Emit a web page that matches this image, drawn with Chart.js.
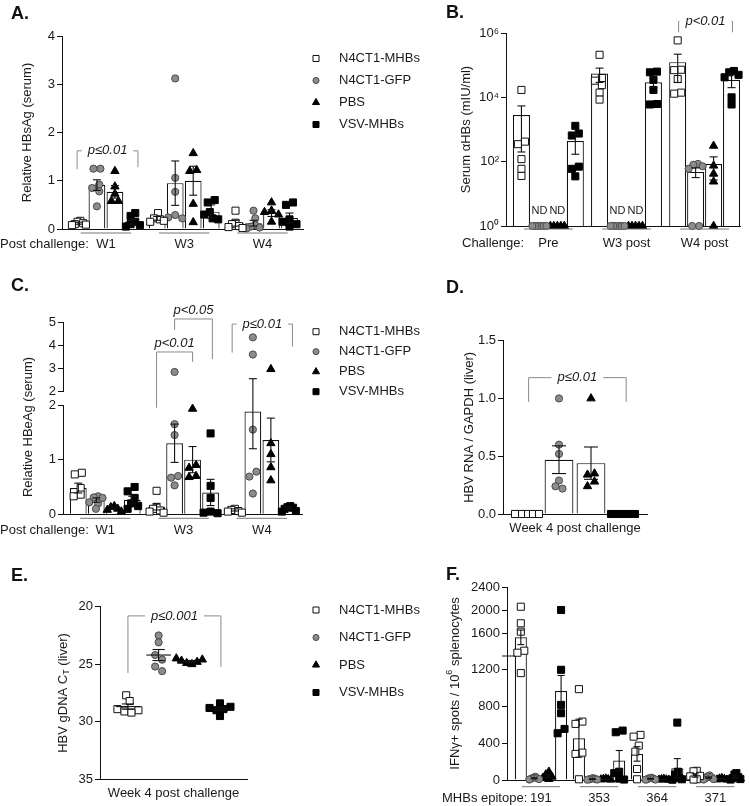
<!DOCTYPE html>
<html>
<head>
<meta charset="utf-8">
<script src="https://cdn.jsdelivr.net/npm/chart.js@4.4.1/dist/chart.umd.min.js"></script>
<style>
  body { margin: 0; background: #fff; }
  #fig { position: relative; width: 750px; height: 806px; overflow: hidden; font-family: "Liberation Sans", Arial, sans-serif; }
  #fig canvas { position: absolute; }
  .tag { position: absolute; font-weight: bold; font-size: 18px; line-height: 18px; color: #111; }
</style>
</head>
<body>
<div id="fig">
  <canvas id="cA" width="480" height="262" style="left:0;top:0"></canvas>
  <canvas id="cB" width="310" height="262" style="left:440px;top:0"></canvas>
  <canvas id="cC" width="480" height="272" style="left:0;top:270px"></canvas>
  <canvas id="cD" width="310" height="272" style="left:440px;top:270px"></canvas>
  <canvas id="cE" width="480" height="266" style="left:0;top:540px"></canvas>
  <canvas id="cF" width="310" height="266" style="left:440px;top:540px"></canvas>
  <div class="tag" style="left:11px;top:4px">A.</div>
  <div class="tag" style="left:446px;top:3px">B.</div>
  <div class="tag" style="left:11px;top:276px">C.</div>
  <div class="tag" style="left:446px;top:278px">D.</div>
  <div class="tag" style="left:11px;top:566px">E.</div>
  <div class="tag" style="left:446px;top:565px">F.</div>
</div>
<script>
const FONT = '"Liberation Sans", Arial, Helvetica, sans-serif';
Chart.defaults.font.family = FONT;
Chart.defaults.font.size = 13;
Chart.defaults.color = '#1a1a1a';
Chart.defaults.responsive = false;
Chart.defaults.animation = false;
Chart.defaults.events = [];
Chart.defaults.plugins.legend.display = false;
Chart.defaults.plugins.tooltip.enabled = false;

const seriesNames = ['N4CT1-MHBs', 'N4CT1-GFP', 'PBS', 'VSV-MHBs'];

// A. relative HBsAg (serum); points per group W1, W3, W4
const aGroups = ['W1', 'W3', 'W4'];
const aMHBs = [[0.17, 0.15, 0.12, 0.1, 0.09, 0.08], [0.33, 0.22, 0.2, 0.17, 0.15], [0.38, 0.13, 0.1, 0.06, 0.04, 0.02]];
const aGFP = [[1.25, 1.25, 0.92, 0.85, 0.78, 0.47], [3.12, 1.06, 0.77, 0.29, 0.24, 0.22], [0.38, 0.22, 0.08, 0.05, 0.03, 0.01]];
const aPBS = [[1.2, 0.88, 0.73, 0.58, 0.58], [1.57, 1.22, 1.2, 0.52, 0.14], [0.55, 0.38, 0.35, 0.3, 0.15]];
const aVSV = [[0.33, 0.27, 0.15, 0.1, 0.08, 0.05], [0.6, 0.55, 0.35, 0.3, 0.22, 0.2], [0.55, 0.5, 0.2, 0.15, 0.1, 0.05]];
const aMean = [[0.12, 0.22, 0.12], [0.91, 0.95, 0.12], [0.77, 1.0, 0.33], [0.15, 0.36, 0.23]];
const aSem = [[0.02, 0.04, 0.06], [0.11, 0.46, 0.06], [0.13, 0.3, 0.07], [0.05, 0.14, 0.1]];

// B. serum anti-HBs (mIU/ml), ND plotted at 1
const bGroups = ['Pre', 'W3 post', 'W4 post'];
const bMHBs = [[17000, 420, 350, 120, 60, 36], [210000, 40000, 33000, 24000, 14000, 8500], [590000, 72000, 70000, 37000, 14000, 13000]];
const bGFP = [[1, 1, 1, 1, 1, 1], [1, 1, 1, 1, 1, 1], [85, 80, 72, 60, 1, 1]];
const bPBS = [[1, 1, 1, 1, 1], [1, 1, 1, 1, 1], [310, 75, 42, 24, 1]];
const bVSV = [[1300, 750, 650, 70, 60, 35], [63000, 60000, 35000, 17000, 6200, 6000], [66000, 60000, 50000, 42000, 10000, 6000]];
const bMean = [[2800, 55000, 124000], [1, 1, 48], [1, 1, 84], [440, 29500, 35000]];
const bSem = [[2600, 26000, 95000], [0, 0, 16], [0, 0, 57], [270, 9500, 15000]];
const bTickVals = [1, 1e2, 1e4, 1e6];
const bTickText = ['10⁰', '10²', '10⁴', '10⁶'];
const bNDgroup = [0, 0, 1, 1];
const bNDseries = [1, 2, 1, 2];

// C. relative HBeAg (serum)
const cGroups = ['W1', 'W3', 'W4'];
const cMHBs = [[0.76, 0.73, 0.48, 0.36, 0.33], [0.43, 0.12, 0.1, 0.07, 0.05, 0.03], [0.1, 0.08, 0.06, 0.05, 0.03]];
const cGFP = [[0.33, 0.31, 0.3, 0.22, 0.2, 0.1], [2.85, 1.65, 1.45, 0.7, 0.67, 0.53], [4.34, 3.6, 1.55, 0.78, 0.69, 0.38]];
const cPBS = [[0.15, 0.13, 0.1, 0.08, 0.05], [1.93, 0.9, 0.85, 0.7, 0.68], [2.97, 1.3, 1.1, 0.86, 0.62]];
const cVSV = [[0.5, 0.42, 0.3, 0.2, 0.15, 0.1], [1.48, 0.52, 0.3, 0.05, 0.03, 0.02], [0.15, 0.13, 0.12, 0.1, 0.06, 0.05]];
const cMean = [[0.48, 0.14, 0.08], [0.26, 1.3, 1.88], [0.12, 1.0, 1.36], [0.26, 0.4, 0.12]];
const cSem = [[0.09, 0.06, 0.02], [0.04, 0.35, 0.68], [0.02, 0.24, 0.4], [0.07, 0.24, 0.02]];

// D. HBV RNA / GAPDH (liver), week 4
const dGroups = ['Week 4 post challenge'];
const dMHBs = [[0, 0, 0, 0, 0]];
const dGFP = [[1.0, 0.6, 0.52, 0.29, 0.24, 0.22]];
const dPBS = [[1.0, 0.35, 0.34, 0.28, 0.24]];
const dVSV = [[0, 0, 0, 0, 0]];
const dMean = [[0], [0.47], [0.44], [0]];
const dSem = [[0], [0.12], [0.14], [0]];

// E. HBV gDNA Ct (liver), week 4
const eMHBs = [27.7, 28.2, 28.9, 29.0, 29.1, 29.2];
const eGFP = [22.5, 23.1, 24.2, 24.6, 25.2, 25.6];
const ePBS = [24.5, 24.6, 24.7, 24.8, 24.9, 25.0];
const eVSV = [28.4, 28.7, 28.8, 28.9, 29.0, 29.5];
const eMean = [28.68, 24.2, 24.75, 28.88];
const eSem = [0.23, 0.48, 0.08, 0.16];

// F. IFNg spots per 10^6 splenocytes, by MHBs epitope
const fGroups = ['191', '353', '364', '371'];
const fMHBs = [[2057, 1769, 1623, 1292, 1257, 1164], [989, 636, 611, 298, 284, 8], [491, 472, 374, 309, 120, 8], [100, 95, 45, 40, 8, 5]];
const fGFP = [[35, 25, 20, 15, 10, 5], [20, 15, 10, 8, 5, 3], [25, 20, 15, 10, 5, 3], [50, 40, 30, 20, 10, 5]];
const fPBS = [[90, 60, 35, 20, 10], [15, 10, 8, 5, 3], [12, 8, 5, 3, 2], [20, 15, 10, 5, 3]];
const fVSV = [[2000, 1200, 818, 727, 556, 509], [538, 520, 90, 75, 15, 5], [625, 90, 60, 20, 8, 3], [75, 60, 30, 20, 10, 5]];
const fMean = [[1525, 455, 284, 49], [18, 10, 13, 26], [43, 8, 6, 11], [968, 211, 127, 33]];
const fSem = [[127, 207, 79, 18], [5, 3, 4, 7], [15, 2, 2, 3], [170, 110, 106, 11]];
const fTicksLow = [0, 400, 800, 1200];
const fTicksHigh = [1600, 2000, 2400];

const marks = [
  {pointStyle: 'rect', radius: 5, bg: '#ffffff', line: '#111111'},
  {pointStyle: 'circle', radius: 3.6, bg: '#8c8c8c', line: '#4a4a4a'},
  {pointStyle: 'triangle', radius: 4.8, bg: '#000000', line: '#000000'},
  {pointStyle: 'rect', radius: 5, bg: '#000000', line: '#000000'}
];

// spread points sideways so markers do not sit on top of each other
function swarm(vals, pxY, pxX, half) {
  const d = 7;
  const idx = vals.map((v, i) => i).sort((a, b) => vals[b] - vals[a]);
  const pts = [];
  const off = new Array(vals.length).fill(0);
  idx.forEach(i => {
    const y = pxY(vals[i]);
    let c = 0;
    for (let k = 0; k < 60; k++) {
      c = (k % 2 ? -1 : 1) * Math.ceil(k / 2) * d / 2;
      if (pts.every(p => Math.hypot(p.x - c, p.y - y) >= d * 0.92)) break;
    }
    pts.push({i, x: c, y});
  });
  const done = list => {
    const mean = list.reduce((a, p) => a + p.x, 0) / list.length;
    const span = Math.max(...list.map(p => Math.abs(p.x - mean)));
    const k = span > half ? half / span : 1;
    list.forEach(p => { off[p.i] = (p.x - mean) * k / pxX; });
  };
  let cl = [pts[0]];
  for (let j = 1; j < pts.length; j++) {
    if (Math.abs(pts[j].y - pts[j - 1].y) < d) cl.push(pts[j]);
    else { done(cl); cl = [pts[j]]; }
  }
  done(cl);
  return off;
}

function xAxis(min, max) {
  return {
    type: 'linear', min, max, offset: false,
    grid: {display: false}, ticks: {display: false},
    border: {display: true, color: '#111', width: 1},
    afterBuildTicks: s => { s.ticks = []; },
    afterFit: s => { s.height = 0; }
  };
}

function yAxis(w, extra, tickExtra) {
  return Object.assign({
    position: 'left',
    grid: {display: true, drawOnChartArea: false, drawTicks: true, tickLength: 5, color: '#111', lineWidth: 1},
    border: {display: true, color: '#111', width: 1},
    ticks: Object.assign({padding: 2, color: '#1a1a1a', autoSkip: false, callback: v => String(v)}, tickExtra || {}),
    afterFit: s => { s.width = w; }
  }, extra);
}

function richTitle(ctx, parts, x, y) {
  ctx.save();
  ctx.translate(x, y);
  ctx.rotate(-Math.PI / 2);
  let w = 0;
  parts.forEach(p => { ctx.font = (p.size || 13) + 'px ' + FONT; p.w = ctx.measureText(p.t).width; w += p.w; });
  let cx = -w / 2;
  ctx.fillStyle = '#1a1a1a';
  ctx.textAlign = 'left';
  ctx.textBaseline = 'middle';
  parts.forEach(p => { ctx.font = (p.size || 13) + 'px ' + FONT; ctx.fillText(p.t, cx, p.dy || 0); cx += p.w; });
  ctx.restore();
}

const extras = {};

const figPlugin = {
  id: 'fig',
  afterDatasetsDraw(chart) {
    const e = extras[chart.canvas.id];
    if (!e) return;
    const ctx = chart.ctx;
    const area = chart.chartArea;
    const route = e.route || (() => 'y');
    const X = v => chart.scales.x.getPixelForValue(v);
    const Y = v => chart.scales[route(v)].getPixelForValue(v);
    const seg = (x1, y1, x2, y2) => { ctx.beginPath(); ctx.moveTo(x1, y1); ctx.lineTo(x2, y2); ctx.stroke(); };
    ctx.save();

    // mean +/- SEM
    ctx.strokeStyle = '#111';
    ctx.lineWidth = 1.1;
    (e.errors || []).forEach(b => {
      if (!b.e) return;
      const x = X(b.x), w = e.cap;
      const top = Y(b.m + b.e);
      const lowOk = b.m - b.e > (e.floor || 0);
      const bot = lowOk ? Y(b.m - b.e) : Y(b.m);
      seg(x, top, x, bot);
      seg(x - w, top, x + w, top);
      if (lowOk) seg(x - w, bot, x + w, bot);
    });
    (e.meanLines || []).forEach(b => {
      const y = Y(b.m);
      seg(X(b.x - 0.4), y, X(b.x + 0.4), y);
      const t = Y(b.m - b.e), u = Y(b.m + b.e);
      seg(X(b.x), t, X(b.x), u);
      seg(X(b.x - 0.2), t, X(b.x + 0.2), t);
      seg(X(b.x - 0.2), u, X(b.x + 0.2), u);
    });

    // significance brackets
    (e.brackets || []).forEach(k => {
      const x1 = X(k.x1), x2 = X(k.x2), yt = Y(k.top);
      ctx.font = 'italic 13px ' + FONT;
      const tw = ctx.measureText(k.text).width;
      const cx = (x1 + x2) / 2;
      ctx.strokeStyle = '#8a8a8a';
      ctx.lineWidth = 1;
      ctx.beginPath();
      ctx.moveTo(x1, Y(k.b1));
      ctx.lineTo(x1, yt);
      if (k.inline) { ctx.lineTo(cx - tw / 2 - 6, yt); ctx.moveTo(cx + tw / 2 + 6, yt); }
      ctx.lineTo(x2, yt);
      ctx.lineTo(x2, Y(k.b2));
      ctx.stroke();
      ctx.fillStyle = '#1a1a1a';
      ctx.textAlign = 'center';
      ctx.textBaseline = 'middle';
      ctx.fillText(k.text, cx, k.inline ? yt : yt - 9);
    });

    // ND labels
    ctx.font = '11px ' + FONT;
    ctx.fillStyle = '#1a1a1a';
    ctx.textAlign = 'center';
    ctx.textBaseline = 'middle';
    (e.nd || []).forEach(x => ctx.fillText('ND', X(x), area.bottom - 15));

    // group underlines and labels under the x axis
    if (e.groups) {
      const g = e.groups, yb = area.bottom;
      ctx.font = '13px ' + FONT;
      g.labels.forEach((t, i) => {
        const c = i * g.step + 1.5;
        ctx.strokeStyle = '#777';
        ctx.lineWidth = 1;
        seg(X(c - g.half), yb + g.lineDy, X(c + g.half), yb + g.lineDy);
        ctx.textAlign = 'center';
        ctx.fillText(t, X(c), yb + g.textDy);
      });
      ctx.textAlign = 'left';
      ctx.fillText(g.lead, g.leadX, yb + g.textDy);
    }
    if (e.caption) {
      ctx.font = '13px ' + FONT;
      ctx.textAlign = 'center';
      ctx.fillText(e.caption.text, (area.left + area.right) / 2, area.bottom + e.caption.dy);
    }
    if (e.breakMark) {
      const y = chart.scales.yTop.bottom;
      ctx.strokeStyle = '#111';
      ctx.lineWidth = 1;
      seg(area.left - 5, y, area.left + 8, y);
    }
    if (e.title) richTitle(ctx, e.title.parts, e.title.x, e.title.y);

    // legend
    if (e.legend) {
      const L = e.legend;
      seriesNames.forEach((name, s) => {
        const m = marks[s], y = L.y + s * L.dy;
        ctx.fillStyle = m.bg;
        ctx.strokeStyle = m.line;
        ctx.lineWidth = 1;
        Chart.helpers.drawPoint(ctx, {pointStyle: m.pointStyle, radius: m.radius * 0.85, borderWidth: 1, rotation: 0}, L.x, y);
        ctx.fillStyle = '#1a1a1a';
        ctx.font = '13px ' + FONT;
        ctx.textAlign = 'left';
        ctx.textBaseline = 'middle';
        ctx.fillText(name, L.x + 23, y);
      });
    }
    ctx.restore();
  }
};

function grouped(id, o) {
  const xOf = (g, s) => g * o.step + s;
  const route = o.route || (() => 'y');
  const sets = [];
  const errors = [];
  o.series.forEach((groupPts, s) => {
    const m = marks[s];
    const byAxis = {};
    groupPts.forEach((vals, g) => {
      const off = swarm(vals, o.pxY, o.pxX, o.half);
      vals.forEach((v, k) => {
        const ax = route(v);
        (byAxis[ax] = byAxis[ax] || []).push({x: xOf(g, s) + off[k], y: v});
      });
    });
    Object.keys(byAxis).forEach(ax => sets.push({
      type: 'scatter', label: seriesNames[s], yAxisID: ax, data: byAxis[ax], order: 0, clip: false,
      pointStyle: m.pointStyle, pointRadius: m.radius, backgroundColor: m.bg, borderColor: m.line, borderWidth: 1
    }));
    const low = [], high = [];
    o.mean[s].forEach((v, g) => {
      const x = xOf(g, s);
      if (o.split && route(v) !== 'y') {
        low.push({x, y: o.split[0], cut: true});
        high.push({x, y: [o.split[1], v]});
      } else {
        low.push({x, y: v});
      }
      errors.push({x, m: v, e: o.sem[s][g]});
    });
    const bar = {
      type: 'bar', grouped: false, order: 1, barPercentage: o.barPct, categoryPercentage: 1,
      backgroundColor: '#ffffff', borderColor: '#111111'
    };
    sets.push(Object.assign({}, bar, {
      yAxisID: 'y', data: low,
      borderWidth: c => (c.raw && c.raw.cut ? {top: 0, left: 1.2, right: 1.2, bottom: 0} : 1.2)
    }));
    if (high.length) sets.push(Object.assign({}, bar, {yAxisID: 'yTop', data: high, borderWidth: 1.2}));
  });
  extras[id] = Object.assign({route: o.route, errors}, o.extras);
  return new Chart(document.getElementById(id), {
    type: 'bar',
    data: {datasets: sets},
    options: {
      layout: {padding: o.pad},
      scales: Object.assign({x: xAxis(o.xmin, o.xmax)}, o.yScales)
    },
    plugins: [figPlugin]
  });
}

// A
grouped('cA', {
  series: [aMHBs, aGFP, aPBS, aVSV], mean: aMean, sem: aSem,
  step: 4.35, xmin: -0.94, xmax: 12.45, barPct: 0.93,
  pxY: v => v * 48.25, pxX: 18, half: 7,
  pad: {left: 20, top: 36, right: 177, bottom: 33},
  yScales: {y: yAxis(42, {min: 0, max: 4, title: {display: true, text: 'Relative HBsAg (serum)', padding: 0}}, {stepSize: 1})},
  extras: {
    cap: 4,
    legend: {x: 316, y: 58.5, dy: 22},
    brackets: [{x1: -0.1, x2: 3.28, top: 1.62, b1: 1.24, b2: 1.28, text: 'p≤0.01', inline: true}],
    groups: {labels: aGroups, step: 4.35, half: 1.4, lineDy: 4, textDy: 15, lead: 'Post challenge:', leadX: 0}
  }
});

// B
grouped('cB', {
  series: [bMHBs, bGFP, bPBS, bVSV], mean: bMean, sem: bSem,
  step: 4.35, xmin: -0.86, xmax: 12.17, barPct: 0.95,
  pxY: v => Math.log10(v) * 32.2, pxX: 18, half: 7,
  pad: {left: 19, top: 33, right: 10, bottom: 36},
  yScales: {y: yAxis(47, {
    type: 'logarithmic', min: 1, max: 1e6,
    title: {display: true, text: 'Serum αHBs (mIU/ml)', padding: 0},
    afterBuildTicks: s => { s.ticks = bTickVals.map(v => ({value: v})); }
  }, {callback: v => bTickText[bTickVals.indexOf(v)]})},
  extras: {
    cap: 4, floor: 1,
    nd: bNDgroup.map((g, i) => g * 4.35 + bNDseries[i]),
    brackets: [{x1: 8.75, x2: 11.75, top: 2.3e6, b1: 1.05e6, b2: 1.05e6, text: 'p<0.01', inline: true}],
    groups: {labels: bGroups, step: 4.35, half: 1.36, lineDy: 3, textDy: 17, lead: 'Challenge:', leadX: 22}
  }
});

// C (broken y axis)
const cRoute = v => (v > 2 ? 'yTop' : 'y');
grouped('cC', {
  series: [cMHBs, cGFP, cPBS, cVSV], mean: cMean, sem: cSem, route: cRoute,
  step: 4.35, xmin: -0.85, xmax: 12.43, barPct: 0.93,
  pxY: v => (v <= 2 ? v * 54.65 : 122.6 + (v - 2) * 23.23), pxX: 18, half: 7,
  pad: {left: 10, top: 52, right: 178, bottom: 27.7},
  yScales: {
    y: yAxis(53, {min: 0, max: 2, stack: 'c', stackWeight: 109.3}, {stepSize: 1}),
    yGap: {position: 'left', stack: 'c', stackWeight: 13.3, min: 0, max: 1,
      grid: {display: false}, border: {display: false}, ticks: {display: false}, afterFit: s => { s.width = 53; }},
    yTop: yAxis(53, {min: 2, max: 5, stack: 'c', stackWeight: 69.7}, {stepSize: 1})
  },
  extras: {
    cap: 4,
    legend: {x: 316, y: 61.7, dy: 20},
    title: {x: 28, y: 157, parts: [{t: 'Relative HBeAg (serum)'}]},
    brackets: [
      {x1: 4.35, x2: 6.35, top: 3.71, b1: 1.95, b2: 3.28, text: 'p<0.01', inline: false},
      {x1: 5.35, x2: 7.45, top: 5.13, b1: 4.66, b2: 3.41, text: 'p<0.05', inline: false},
      {x1: 8.55, x2: 11.9, top: 4.91, b1: 3.68, b2: 3.94, text: 'p≤0.01', inline: true}
    ],
    groups: {labels: cGroups, step: 4.35, half: 1.4, lineDy: 4, textDy: 16, lead: 'Post challenge:', leadX: 0}
  }
});

// D
grouped('cD', {
  series: [dMHBs, dGFP, dPBS, dVSV], mean: dMean, sem: dSem,
  step: 4, xmin: -0.75, xmax: 3.75, barPct: 0.9,
  pxY: v => v * 115.6, pxX: 32, half: 12,
  pad: {left: 22, top: 70.7, right: 103, bottom: 28},
  yScales: {y: yAxis(41, {min: 0, max: 1.5, title: {display: true, text: 'HBV RNA / GAPDH (liver)', padding: 0}},
    {stepSize: 0.5, callback: v => v.toFixed(1)})},
  extras: {
    cap: 7,
    brackets: [{x1: 0.05, x2: 3.1, top: 1.18, b1: 0.97, b2: 0.97, text: 'p≤0.01', inline: true}],
    caption: {text: dGroups[0], dy: 14.5}
  }
});

// E (scatter with mean and SEM)
(function () {
  const sets = [eMHBs, eGFP, ePBS, eVSV].map((vals, s) => {
    const m = marks[s];
    const off = swarm(vals, v => v * 11.5, 30.7, 13);
    return {
      label: seriesNames[s], data: vals.map((v, k) => ({x: s + off[k], y: v})), clip: false,
      pointStyle: m.pointStyle, pointRadius: m.radius, backgroundColor: m.bg, borderColor: m.line, borderWidth: 1
    };
  });
  extras.cE = {
    meanLines: eMean.map((m, s) => ({x: s, m, e: eSem[s]})),
    legend: {x: 316, y: 70, dy: 27.5},
    title: {x: 63, y: 153, parts: [{t: 'HBV gDNA C'}, {t: 'T', size: 9, dy: 4}, {t: ' (liver)'}]},
    brackets: [{x1: 0, x2: 3.03, top: 20.8, b1: 25.76, b2: 25.24, text: 'p≤0.001', inline: true}],
    caption: {text: 'Week 4 post challenge', dy: 14.5}
  };
  new Chart(document.getElementById('cE'), {
    type: 'scatter',
    data: {datasets: sets},
    options: {
      layout: {padding: {left: 10, top: 66.7, right: 233, bottom: 26.7}},
      scales: {
        x: xAxis(-0.91, 3.88),
        y: yAxis(90, {min: 20, max: 35, reverse: true}, {stepSize: 5})
      }
    },
    plugins: [figPlugin]
  });
})();

// F (broken y axis)
grouped('cF', {
  series: [fMHBs, fGFP, fPBS, fVSV], mean: fMean, sem: fSem,
  route: v => (v > 1200 ? 'yTop' : 'y'), split: [1350, 1200],
  step: 4.33, xmin: -1.03, xmax: 16.63, barPct: 0.9,
  pxY: v => (v <= 1200 ? v * 0.0917 : 124 + (v - 1200) * 0.0575), pxX: 13.65, half: 5,
  pad: {left: 10, top: 47, right: 2, bottom: 26},
  yScales: {
    y: yAxis(57, {min: 0, max: 1350, stack: 'f', stackWeight: 124,
      afterBuildTicks: s => { s.ticks = fTicksLow.map(v => ({value: v})); }}),
    yTop: yAxis(57, {min: 1200, max: 2400, stack: 'f', stackWeight: 69,
      afterBuildTicks: s => { s.ticks = fTicksHigh.map(v => ({value: v})); }})
  },
  extras: {
    cap: 3.5,
    breakMark: true,
    title: {x: 15, y: 143.5, parts: [{t: 'IFNγ+ spots / 10'}, {t: '6', size: 9, dy: -5}, {t: ' splenocytes'}]},
    groups: {labels: fGroups, step: 4.33, half: 1.43, lineDy: 6.7, textDy: 18, lead: 'MHBs epitope:', leadX: 2}
  }
});
</script>
</body>
</html>
